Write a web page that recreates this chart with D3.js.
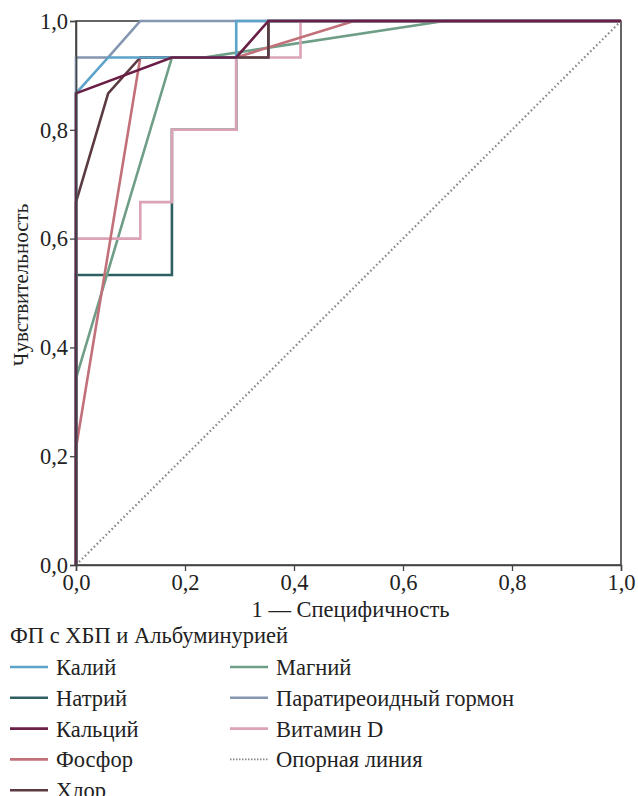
<!DOCTYPE html>
<html><head><meta charset="utf-8">
<script src="https://cdn.jsdelivr.net/npm/d3@7"></script>
<style>body{margin:0;background:#fff}svg{display:block}
svg text{font-family:"Liberation Serif","DejaVu Serif","Times New Roman",Times,serif;}</style>
</head><body>
<svg id="c" width="638" height="796"></svg>
<script>
const xTicks = [0, 0.2, 0.4, 0.6, 0.8, 1.0];
const yTicks = [0, 0.2, 0.4, 0.6, 0.8, 1.0];
const seriesNames = ["Калий","Натрий","Кальций","Фосфор","Хлор","Магний","Паратиреоидный гормон","Витамин D"];
const seriesColors = ["#5ba3c9","#2f5f60","#6a1f46","#c2717b","#5b3a41","#6f9e86","#8596b1","#dca3b6"];
// [1 - specificity, sensitivity]
const kaliy = [[0,0],[0,0.867],[0.059,0.933],[0.294,0.933],[0.294,1],[1,1]];
const natriy = [[0,0],[0,0.533],[0.176,0.533],[0.176,0.8],[0.294,0.8],[0.294,0.933],[0.353,0.933],[0.353,1],[1,1]];
const kalciy = [[0,0],[0,0.867],[0.176,0.933],[0.294,0.933],[0.353,1],[1,1]];
const fosfor = [[0,0],[0,0.215],[0.118,0.933],[0.294,0.933],[0.51,1],[1,1]];
const khlor = [[0,0],[0,0.667],[0.059,0.867],[0.118,0.933],[0.353,0.933],[0.353,1],[1,1]];
const magniy = [[0,0],[0,0.343],[0.176,0.933],[0.235,0.933],[0.676,1],[1,1]];
const pth = [[0,0],[0,0.933],[0.059,0.933],[0.118,1],[1,1]];
const vitD = [[0,0],[0,0.6],[0.118,0.6],[0.118,0.667],[0.176,0.667],[0.176,0.8],[0.294,0.8],[0.294,0.933],[0.412,0.933],[0.412,1],[1,1]];
const refLine = [[0,0],[1,1]];
const seriesData = [kaliy,natriy,kalciy,fosfor,khlor,magniy,pth,vitD];
const drawOrder = [1,5,6,7,3,4,0,2];

const svg = d3.select("#c");
const m = {l:76, r:621, t:21, b:565};
const x = d3.scaleLinear().domain([0,1]).range([m.l, m.r]);
const y = d3.scaleLinear().domain([0,1]).range([m.b, m.t]);
const fmt = d => d3.format(".1f")(d).replace(".", ",");
const FS = 22.5;

svg.append("rect").attr("x",m.l).attr("y",m.t).attr("width",m.r-m.l).attr("height",m.b-m.t)
  .attr("fill","none").attr("stroke","#333").attr("stroke-width",1.5);

const line = d3.line().x(d=>x(d[0])).y(d=>y(d[1]));
svg.append("path").datum(refLine).attr("d",line).attr("fill","none")
  .attr("stroke","#888").attr("stroke-width",2.2).attr("stroke-dasharray","1.6 2.6");

drawOrder.forEach(i=>{
  svg.append("path").datum(seriesData[i]).attr("d",line).attr("fill","none")
    .attr("stroke",seriesColors[i]).attr("stroke-width",2.6);
});

const xa = svg.append("g").attr("transform",`translate(0,${m.b})`)
  .call(d3.axisBottom(x).tickValues(xTicks).tickFormat(fmt).tickSize(6).tickPadding(3));
const ya = svg.append("g").attr("transform",`translate(${m.l},0)`)
  .call(d3.axisLeft(y).tickValues(yTicks).tickFormat(fmt).tickSize(6).tickPadding(2));
[xa,ya].forEach(a=>{
  a.attr("font-family",null);
  a.select(".domain").attr("stroke","#444").attr("stroke-width",1.5);
  a.selectAll(".tick line").attr("stroke","#444").attr("stroke-width",1.3);
  a.selectAll("text").attr("font-size",FS).attr("fill","#222");
});

svg.append("text").attr("x",(m.l+m.r)/2+2).attr("y",617).attr("text-anchor","middle")
  .attr("font-size",FS).attr("fill","#222").text("1 — Специфичность");
svg.append("text").attr("transform",`translate(28,285) rotate(-90)`).attr("text-anchor","middle")
  .attr("font-size",21).attr("fill","#222").text("Чувствительность");

svg.append("text").attr("x",10).attr("y",643).attr("font-size",FS)
  .attr("fill","#222").text("ФП с ХБП и Альбуминурией");
const legItems = seriesNames.map((n,i)=>({name:n,color:seriesColors[i],dash:null}));
legItems.push({name:"Опорная линия",color:"#888",dash:"1.5 1.5"});
const colX = [10, 230], rowY0 = 667, rowDy = 30.8;
legItems.forEach((d,i)=>{
  const col = i < 5 ? 0 : 1, row = i < 5 ? i : i-5;
  const gx = colX[col], gy = rowY0 + row*rowDy;
  svg.append("line").attr("x1",gx).attr("x2",gx+38).attr("y1",gy).attr("y2",gy)
    .attr("stroke",d.color).attr("stroke-width",d.dash?1.8:2.6).attr("stroke-dasharray",d.dash);
  svg.append("text").attr("x",gx+46).attr("y",gy+8).attr("font-size",FS)
    .attr("fill","#222").text(d.name);
});
</script>
</body></html>
